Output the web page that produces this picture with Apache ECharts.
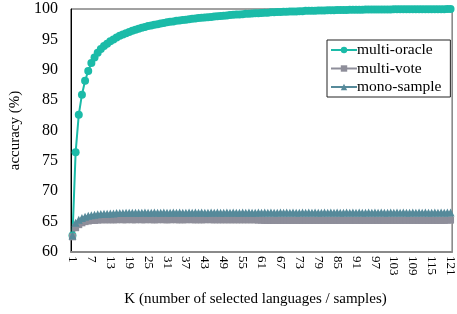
<!DOCTYPE html>
<html>
<head>
<meta charset="utf-8">
<script src="https://cdn.jsdelivr.net/npm/echarts@6/dist/echarts.min.js"></script>
<style>
html, body { margin: 0; padding: 0; background: #fff; }
#chart { width: 457px; height: 314px; }
</style>
</head>
<body>
<div id="chart"></div>
<script>
// K = 1 .. 121
var kValues = [];
for (var i = 1; i <= 121; i++) { kValues.push(String(i)); }

var multiOracle = [
  62.7, 76.4, 82.6, 85.9, 88.2, 89.8, 91.1, 92.0, 92.8, 93.4,
  93.9, 94.3, 94.7, 95.0, 95.3, 95.6, 95.8, 96.0, 96.2, 96.4,
  96.6, 96.75, 96.9, 97.05, 97.2, 97.3, 97.4, 97.5, 97.6, 97.7,
  97.8, 97.9, 97.95, 98.05, 98.1, 98.2, 98.25, 98.3, 98.4, 98.45,
  98.5, 98.55, 98.6, 98.65, 98.7, 98.75, 98.8, 98.85, 98.9, 98.95,
  99.0, 99.05, 99.1, 99.1, 99.15, 99.2, 99.2, 99.25, 99.3, 99.3,
  99.35, 99.4, 99.4, 99.45, 99.45, 99.5, 99.5, 99.55, 99.55, 99.6,
  99.6, 99.6, 99.65, 99.65, 99.7, 99.7, 99.7, 99.72, 99.74, 99.75,
  99.77, 99.78, 99.8, 99.8, 99.82, 99.83, 99.84, 99.85, 99.86, 99.87,
  99.88, 99.88, 99.89, 99.9, 99.9, 99.9, 99.91, 99.92, 99.92, 99.93,
  99.93, 99.93, 99.94, 99.94, 99.94, 99.95, 99.95, 99.95, 99.95, 99.96,
  99.96, 99.96, 99.96, 99.96, 99.97, 99.97, 99.97, 99.97, 99.97, 99.98, 99.98
];

var multiVote = [
  62.5, 64.0, 64.5, 64.8, 65.0, 65.1, 65.2, 65.2, 65.25, 65.3,
  65.3, 65.3, 65.3, 65.3, 65.3, 65.35, 65.3, 65.3, 65.35, 65.3,
  65.3, 65.35, 65.3, 65.3, 65.35, 65.3, 65.3, 65.3, 65.35, 65.3,
  65.3, 65.3, 65.35, 65.3, 65.3, 65.3, 65.3, 65.35, 65.3, 65.3,
  65.3, 65.3, 65.3, 65.35, 65.3, 65.3, 65.3, 65.3, 65.3, 65.3,
  65.3, 65.3, 65.3, 65.3, 65.3, 65.3, 65.3, 65.3, 65.3, 65.25,
  65.25, 65.2, 65.2, 65.2, 65.2, 65.2, 65.2, 65.2, 65.2, 65.2,
  65.2, 65.2, 65.2, 65.2, 65.2, 65.2, 65.2, 65.2, 65.2, 65.2,
  65.2, 65.2, 65.2, 65.2, 65.2, 65.2, 65.2, 65.2, 65.2, 65.2,
  65.2, 65.2, 65.2, 65.2, 65.2, 65.2, 65.2, 65.2, 65.2, 65.2,
  65.2, 65.2, 65.2, 65.2, 65.2, 65.2, 65.2, 65.2, 65.2, 65.2,
  65.2, 65.2, 65.2, 65.2, 65.2, 65.2, 65.2, 65.2, 65.2, 65.25, 65.25
];

var monoSample = [
  62.7, 64.8, 65.3, 65.6, 65.8, 65.95, 66.05, 66.15, 66.2, 66.25,
  66.3, 66.3, 66.35, 66.35, 66.4, 66.4, 66.4, 66.45, 66.45, 66.45,
  66.45, 66.45, 66.45, 66.5, 66.45, 66.45, 66.5, 66.45, 66.45, 66.5,
  66.45, 66.45, 66.5, 66.45, 66.5, 66.45, 66.45, 66.5, 66.45, 66.5,
  66.45, 66.5, 66.45, 66.45, 66.5, 66.45, 66.5, 66.45, 66.45, 66.5,
  66.45, 66.5, 66.45, 66.45, 66.5, 66.45, 66.5, 66.45, 66.45, 66.5,
  66.45, 66.5, 66.45, 66.5, 66.45, 66.45, 66.5, 66.45, 66.5, 66.45,
  66.5, 66.45, 66.45, 66.5, 66.45, 66.5, 66.45, 66.5, 66.45, 66.45,
  66.5, 66.45, 66.5, 66.45, 66.5, 66.45, 66.45, 66.5, 66.45, 66.5,
  66.45, 66.5, 66.45, 66.45, 66.5, 66.45, 66.5, 66.45, 66.5, 66.45,
  66.45, 66.5, 66.45, 66.5, 66.45, 66.5, 66.45, 66.45, 66.5, 66.45,
  66.5, 66.45, 66.5, 66.45, 66.45, 66.5, 66.45, 66.5, 66.45, 66.5, 66.5
];

var seriesNames = ['multi-oracle', 'multi-vote', 'mono-sample'];
var seriesColors = ['#1bbba8', '#8e8e9a', '#568a9a'];

var serif = '"Liberation Serif", "Times New Roman", serif';

var chart = echarts.init(document.getElementById('chart'));

var option = {
    animation: false,
    grid: {
        left: 63,
        right: 1,
        top: 9,
        bottom: 62,
        show: true,
        borderColor: '#444',
        borderWidth: 1
    },
    legend: {
        orient: 'vertical',
        left: 327,
        top: 40,
        data: seriesNames,
        itemWidth: 26,
        itemHeight: 8,
        itemGap: 2.5,
        padding: [2, 9, 2, 3],
        backgroundColor: '#fff',
        borderColor: '#222',
        borderWidth: 1,
        borderRadius: 0,
        textStyle: { fontFamily: serif, fontSize: 15.5, color: '#000', padding: [0, 0, 0, -5] }
    },
    xAxis: {
        type: 'category',
        data: kValues,
        boundaryGap: true,
        name: 'K (number of selected languages / samples)',
        nameLocation: 'middle',
        nameGap: 40,
        nameTextStyle: { fontFamily: serif, fontSize: 15, color: '#000', padding: [0, 12, 0, 0] },
        axisLine: { lineStyle: { color: '#8a8a8a', width: 2 } },
        axisTick: { show: false },
        axisLabel: {
            interval: 5,
            rotate: -90,
            margin: 4,
            fontFamily: serif,
            fontSize: 13,
            color: '#000'
        },
        splitLine: { show: false }
    },
    yAxis: {
        type: 'value',
        min: 60,
        max: 100,
        interval: 5,
        name: 'accuracy (%)',
        nameLocation: 'middle',
        nameGap: 42,
        nameRotate: 90,
        nameTextStyle: { fontFamily: serif, fontSize: 15, color: '#000' },
        axisLine: { show: true, lineStyle: { color: '#000', width: 1 } },
        axisTick: { show: false },
        axisLabel: { margin: 13, fontFamily: serif, fontSize: 16, color: '#000' },
        splitLine: { show: false }
    },
    series: [
        {
            name: seriesNames[0],
            type: 'line',
            data: multiOracle,
            symbol: 'circle',
            symbolSize: 8,
            showSymbol: true,
            showAllSymbol: true,
            lineStyle: { color: seriesColors[0], width: 2 },
            itemStyle: { color: seriesColors[0] }
        },
        {
            name: seriesNames[1],
            type: 'line',
            data: multiVote,
            symbol: 'rect',
            symbolSize: 7,
            showSymbol: true,
            showAllSymbol: true,
            lineStyle: { color: seriesColors[1], width: 2 },
            itemStyle: { color: seriesColors[1] }
        },
        {
            name: seriesNames[2],
            type: 'line',
            data: monoSample,
            symbol: 'triangle',
            symbolSize: 8,
            showSymbol: true,
            showAllSymbol: true,
            lineStyle: { color: seriesColors[2], width: 2 },
            itemStyle: { color: seriesColors[2] }
        }
    ]
};

chart.setOption(option);
</script>
</body>
</html>
